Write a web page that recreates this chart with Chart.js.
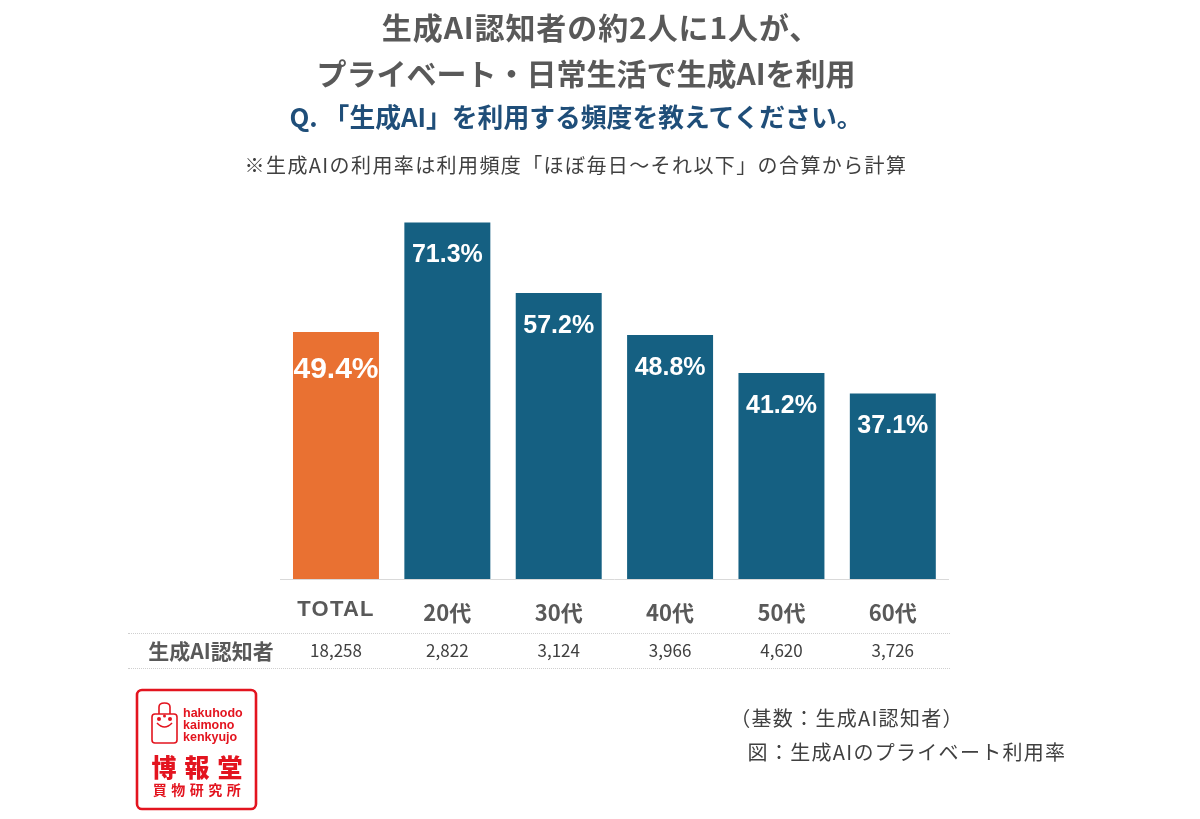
<!DOCTYPE html>
<html lang="ja">
<head>
<meta charset="utf-8">
<title>生成AIのプライベート利用率</title>
<script src="https://cdn.jsdelivr.net/npm/chart.js@4"></script>
<style>
  html, body { margin: 0; padding: 0; background: #fff; }
  #stage { position: relative; width: 1200px; height: 819px; overflow: hidden; font-family: "Noto Sans CJK JP", "Noto Sans", sans-serif; }
  #chart { position: absolute; left: 0; top: 0; }
  .line { position: absolute; white-space: nowrap; line-height: 1; transform: translate(-50%, -50%); }
  .heading { font-size: 30px; font-weight: 700; color: #595959; }
  .question { font-size: 25.8px; font-weight: 700; color: #1f4e79; }
  .note { font-size: 20px; font-weight: 400; color: #404040; letter-spacing: 1.4px; }
  .base { font-size: 20px; font-weight: 400; color: #404040; letter-spacing: 1.3px; }
  .rule { position: absolute; left: 128px; width: 822px; border-top: 1px dotted #cfcfcf; }
  #logo { position: absolute; left: 134px; top: 687px; }
</style>
</head>
<body>
<div id="stage">
  <canvas id="chart" width="1200" height="819"></canvas>
  <div class="line heading" style="left:601px;top:26px;letter-spacing:0.9px">生成AI認知者の約2人に1人が、</div>
  <div class="line heading" style="left:586px;top:72px">プライベート・日常生活で生成AIを利用</div>
  <div class="line question" style="left:576px;top:116px">Q. 「生成AI」を利用する頻度を教えてください。</div>
  <div class="line note" style="left:576px;top:165px">※生成AIの利用率は利用頻度「ほぼ毎日～それ以下」の合算から計算</div>
  <div class="rule" style="top:633px"></div>
  <div class="rule" style="top:668px"></div>
  <div class="line base" style="left:847px;top:718px">（基数：生成AI認知者）</div>
  <div class="line base" style="left:907px;top:752px">図：生成AIのプライベート利用率</div>

  <svg id="logo" width="125" height="125" viewBox="0 0 125 125">
    <rect x="3" y="3" width="119" height="119" rx="5" fill="#fff" stroke="#e3141f" stroke-width="2.6"/>
    <g fill="none" stroke="#e3141f" stroke-width="1.6">
      <path d="M18 30 L18 53 Q18 56 21 56 L40 56 Q43 56 43 53 L43 30 Q43 27 40 27 L21 27 Q18 27 18 30 Z"/>
      <path d="M25 27 L25 20 Q25 16 30.5 16 Q36 16 36 20 L36 27"/>
      <path d="M23 36 Q30.5 44 38 36"/>
    </g>
    <g fill="#e3141f">
      <circle cx="25" cy="32" r="2"/><circle cx="36" cy="32" r="2"/><circle cx="30.5" cy="29" r="1.5"/>
      <text x="49" y="30" font-family="Liberation Sans" font-weight="700" font-size="12.5">hakuhodo</text>
      <text x="49" y="42" font-family="Liberation Sans" font-weight="700" font-size="12.5">kaimono</text>
      <text x="49" y="54" font-family="Liberation Sans" font-weight="700" font-size="12.5">kenkyujo</text>
      <text x="67" y="90" text-anchor="middle" font-family="Noto Sans CJK JP" font-weight="900" font-size="25" letter-spacing="8">博報堂</text>
      <text x="65" y="108" text-anchor="middle" font-family="Noto Sans CJK JP" font-weight="700" font-size="14" letter-spacing="4.5">買物研究所</text>
    </g>
  </svg>
</div>
<script>
// 年代別の生成AI利用率（%）と基数
const categories = ['TOTAL', '20代', '30代', '40代', '50代', '60代'];
const usageRates = [49.4, 71.3, 57.2, 48.8, 41.2, 37.1];
const respondents = [18258, 2822, 3124, 3966, 4620, 3726];
const rowTitle = '生成AI認知者';

const TOTAL_COLOR = '#e97132';
const AGE_COLOR = '#156082';
const LABEL_COLOR = '#595959';

// 棒の中の数値、カテゴリ名、基数の行をスケール位置に合わせて描く
const annotate = {
  id: 'annotate',
  afterDatasetsDraw(chart) {
    const { ctx, scales: { x } } = chart;
    const bars = chart.getDatasetMeta(0).data;
    ctx.save();
    ctx.textAlign = 'center';
    ctx.textBaseline = 'middle';
    bars.forEach((bar, i) => {
      const isTotal = i === 0;
      ctx.fillStyle = '#fff';
      ctx.font = `700 ${isTotal ? 30 : 25}px "Liberation Sans"`;
      ctx.fillText(usageRates[i].toFixed(1) + '%', bar.x, bar.y + (isTotal ? 38 : 33));
    });
    categories.forEach((name, i) => {
      const cx = x.getPixelForValue(i);
      ctx.fillStyle = LABEL_COLOR;
      if (i === 0) {
        ctx.font = '700 22px "Liberation Sans"';
        ctx.letterSpacing = '1.2px';
        ctx.fillText(name, cx, 610);
        ctx.letterSpacing = '0px';
      } else {
        ctx.font = '700 22px "Noto Sans CJK JP"';
        ctx.fillText(name, cx, 613);
      }
      ctx.fillStyle = '#404040';
      ctx.font = '400 17px "Noto Sans CJK JP"';
      ctx.fillText(respondents[i].toLocaleString('en-US'), cx, 651);
    });
    ctx.fillStyle = LABEL_COLOR;
    ctx.font = '700 21px "Noto Sans CJK JP"';
    ctx.fillText(rowTitle, 211, 651);
    ctx.restore();
  }
};

new Chart(document.getElementById('chart'), {
  type: 'bar',
  data: {
    labels: categories,
    datasets: [{
      data: usageRates,
      backgroundColor: c => c.index === 0 ? TOTAL_COLOR : AGE_COLOR,
      categoryPercentage: 1,
      barPercentage: 0.772
    }]
  },
  options: {
    responsive: false,
    animation: false,
    layout: { padding: { left: 280.3, right: 251.5, top: 179, bottom: 240 } },
    plugins: { legend: { display: false }, tooltip: { enabled: false }, title: { display: false } },
    scales: {
      x: {
        grid: { display: false, drawTicks: false },
        border: { color: '#d9d9d9', width: 1 },
        ticks: { display: false }
      },
      y: { display: false, min: 0, max: 80 }
    }
  },
  plugins: [annotate]
});
</script>
</body>
</html>
